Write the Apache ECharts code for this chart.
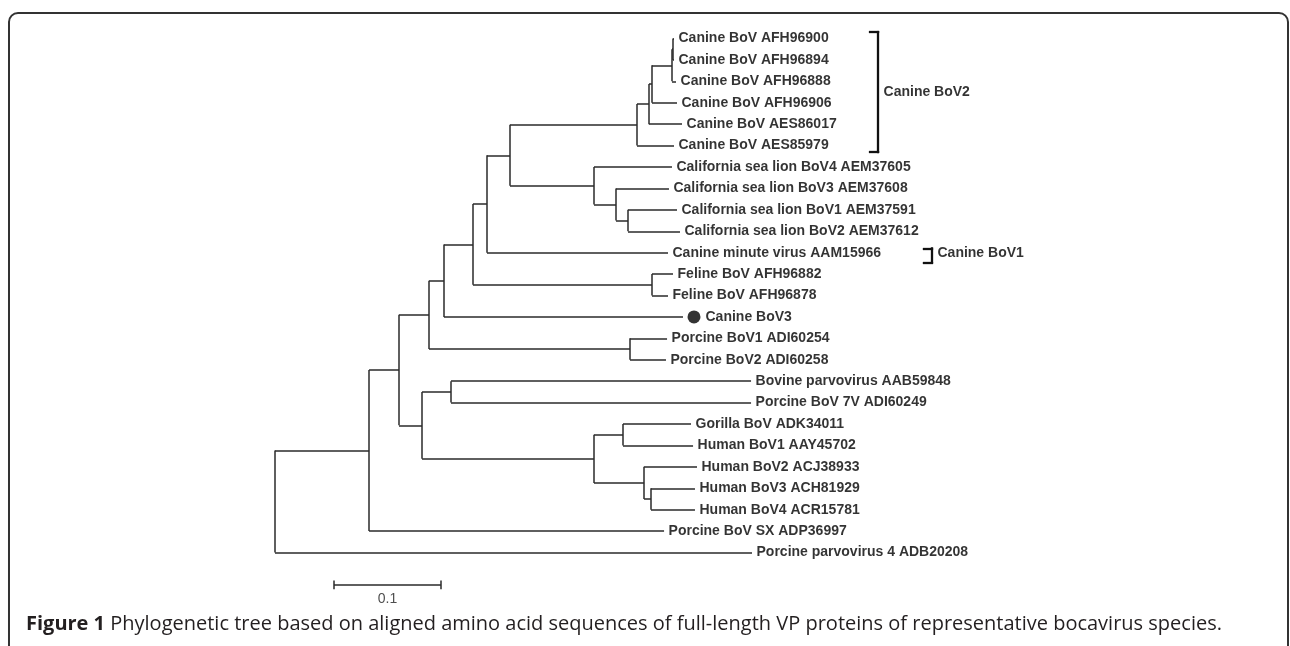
<!DOCTYPE html>
<html>
<head>
<meta charset="utf-8">
<style>
html,body{margin:0;padding:0;background:#fff;}
#chart{width:1290px;height:646px;}
</style>
<script src="https://cdn.jsdelivr.net/npm/echarts@6/dist/echarts.min.js"></script>
</head>
<body>
<div id="chart"></div>
<script>
// ---- Leaves (top to bottom) ----
const leafNames = [
  'Canine BoV AFH96900','Canine BoV AFH96894','Canine BoV AFH96888','Canine BoV AFH96906',
  'Canine BoV AES86017','Canine BoV AES85979','California sea lion BoV4 AEM37605',
  'California sea lion BoV3 AEM37608','California sea lion BoV1 AEM37591',
  'California sea lion BoV2 AEM37612','Canine minute virus AAM15966','Feline BoV AFH96882',
  'Feline BoV AFH96878','Canine BoV3','Porcine BoV1 ADI60254','Porcine BoV2 ADI60258',
  'Bovine parvovirus AAB59848','Porcine BoV 7V ADI60249','Gorilla BoV ADK34011',
  'Human BoV1 AAY45702','Human BoV2 ACJ38933','Human BoV3 ACH81929','Human BoV4 ACR15781',
  'Porcine BoV SX ADP36997','Porcine parvovirus 4 ADB20208'
];
// distance of each leaf tip from the root (substitutions / site)
const leafDepth = [
  0.3729,0.3729,0.3748,0.3757,0.3804,0.3729,0.3710,0.3682,0.3757,0.3785,0.3673,0.3720,
  0.3673,0.3813,0.3664,0.3654,0.4449,0.4449,0.3888,0.3907,0.3944,0.3925,0.3925,0.3636,0.4458
];
// ---- Internal nodes ----
const nodeIds   = ['A1','A2','B','C','D','E','F','G','H','I','J','K','L','M','N','O','P','Q','R','S','T','U','V','W'];
const nodeDepth = [0.3720,0.3710,0.3523,0.3495,0.3383,0.2196,0.2981,0.3187,0.3299,0.1981,0.1850,0.3523,
                   0.1579,0.1439,0.3318,0.1159,0.1374,0.1645,0.2981,0.3252,0.3449,0.3514,0.0879,0.0000];
const nodeKids  = [[0,1],['A1',2],['A2',3],['B',4],['C',5],['D','F'],[6,'G'],[7,'H'],[8,9],['E',10],
                   ['I','K'],[11,12],['J',13],['L','N'],[14,15],['M','P'],['Q','R'],[16,17],['S','T'],
                   [18,19],[20,'U'],[21,22],['O',23],['V',24]];
const markedLeaf = 13; // Canine BoV3 (filled circle)
// ---- Clade brackets ----
const cladeNames    = ['Canine BoV2','Canine BoV1'];
const cladeFrom     = [-0.30, 9.80];
const cladeTo       = [5.30, 10.45];
const cladeDepth    = [0.5636, 0.6140];
const cladeLabelRow = [2.5, 10.0];
// ---- Scale bar ----
const scaleStart = 0.0551, scaleLength = 0.1, scaleLabel = '0.1', scaleRow = 25.51;

const caption = 'Phylogenetic tree based on aligned amino acid sequences of full-length VP proteins of representative bocavirus species.';

// ---- layout of tree from data ----
function pos(id){
  if (typeof id === 'number') return [leafDepth[id], id];
  const k = nodeIds.indexOf(id);
  const kids = nodeKids[k];
  const a = pos(kids[0]), b = pos(kids[kids.length-1]);
  return [nodeDepth[k], (a[1]+b[1])/2];
}
const segs = [];
nodeIds.forEach((id,k)=>{
  const x = nodeDepth[k];
  const ys = nodeKids[k].map(c=>pos(c));
  segs.push([[x, ys[0][1]],[x, ys[ys.length-1][1]]]);
  ys.forEach(p=>segs.push([[x,p[1]],[p[0],p[1]]]));
});
const bracketSegs = [];
cladeNames.forEach((n,i)=>{
  const x = cladeDepth[i], t = 0.0075;
  bracketSegs.push([[x-t,cladeFrom[i]],[x,cladeFrom[i]]]);
  bracketSegs.push([[x,cladeFrom[i]],[x,cladeTo[i]]]);
  bracketSegs.push([[x-t,cladeTo[i]],[x,cladeTo[i]]]);
});
segs.push([[scaleStart,scaleRow],[scaleStart+scaleLength,scaleRow]]);
segs.push([[scaleStart,scaleRow-0.2],[scaleStart,scaleRow+0.2]]);
segs.push([[scaleStart+scaleLength,scaleRow-0.2],[scaleStart+scaleLength,scaleRow+0.2]]);

const FONT = 'Liberation Sans';
const chart = echarts.init(document.getElementById('chart'), null, {renderer:'canvas'});
chart.setOption({
  animation:false,
  backgroundColor:'#fff',
  grid:{left:275, top:17.083, width:963, height:599.67, containLabel:false},
  xAxis:{type:'value', min:0, max:0.9, show:false},
  yAxis:{type:'value', min:-1, max:27, inverse:true, show:false},
  graphic:[
    {type:'rect', shape:{x:9, y:13, width:1279, height:680, r:9},
     style:{fill:'none', stroke:'#333', lineWidth:2}, silent:true},
    {type:'text', left:26, top:614,
     style:{text:'{b|Figure 1} '+caption, fontSize:20, fontFamily:'Open Sans', fill:'#231f20',
       rich:{b:{fontWeight:'bold', fontSize:20, fontFamily:'Open Sans', fill:'#231f20'}}}}
  ],
  series:[
    {type:'lines', coordinateSystem:'cartesian2d', polyline:false, clip:false, silent:true,
     lineStyle:{color:'#2a2a2a', width:1.5, opacity:1},
     data:segs.map(s=>({coords:s}))},
    {type:'lines', coordinateSystem:'cartesian2d', polyline:false, clip:false, silent:true,
     lineStyle:{color:'#111', width:2.3, opacity:1, cap:'square'},
     data:bracketSegs.map(s=>({coords:s}))},
    {type:'scatter', clip:false, silent:true, symbolSize:1, itemStyle:{color:'rgba(0,0,0,0)'},
     data:leafNames.map((n,i)=>({value:[leafDepth[i], i, n],
       label: i===markedLeaf ? {distance:22} : undefined})),
     label:{show:true, position:'right', distance:4,
       formatter:p=>p.data.value[2], color:'#000', fontWeight:'bold', fontSize:14, fontFamily:FONT}},
    {type:'scatter', clip:false, silent:true, symbol:'circle', symbolSize:13, symbolOffset:[11,0],
     itemStyle:{color:'#000'}, data:[[leafDepth[markedLeaf], markedLeaf]]},
    {type:'scatter', clip:false, silent:true, symbolSize:1, itemStyle:{color:'rgba(0,0,0,0)'},
     data:cladeNames.map((n,i)=>[cladeDepth[i], cladeLabelRow[i], n]),
     label:{show:true, position:'right', distance:5,
       formatter:p=>p.data[2], color:'#000', fontWeight:'bold', fontSize:14, fontFamily:FONT}},
    {type:'scatter', clip:false, silent:true, symbolSize:1, itemStyle:{color:'rgba(0,0,0,0)'},
     data:[[scaleStart+scaleLength/2, scaleRow+0.65, scaleLabel]],
     label:{show:true, position:'inside', formatter:p=>p.data[2], color:'#222', fontSize:14, fontFamily:FONT}}
  ]
});
</script>
</body>
</html>
